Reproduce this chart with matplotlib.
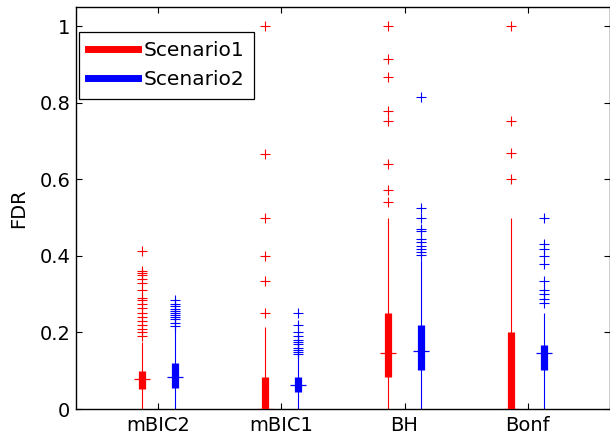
import numpy as np
import matplotlib.pyplot as plt

plt.rcParams['font.family'] = ['DejaVu Sans']

methods = ["mBIC2", "mBIC1", "BH", "Bonf"]
series = ["Scenario1", "Scenario2"]
colors = ["#ff0000", "#0000ff"]

# per method: (whisker low, q1, median, q3, whisker high)
s1_stats = [
    (0.0, 0.052, 0.078, 0.099, 0.175),
    (0.0, 0.0, 0.0, 0.084, 0.213),
    (0.0, 0.084, 0.146, 0.251, 0.5),
    (0.0, 0.0, 0.0, 0.2, 0.5),
]
s2_stats = [
    (0.0, 0.056, 0.084, 0.119, 0.213),
    (0.0, 0.045, 0.062, 0.084, 0.14),
    (0.0, 0.101, 0.152, 0.219, 0.39),
    (0.0, 0.101, 0.146, 0.167, 0.251),
]
s1_outliers = [
    [0.19, 0.2, 0.21, 0.22, 0.23, 0.24, 0.25, 0.265, 0.275, 0.285, 0.29,
     0.31, 0.33, 0.34, 0.35, 0.355, 0.36, 0.413],
    [0.252, 0.335, 0.401, 0.5, 0.667, 1.0],
    [0.54, 0.571, 0.641, 0.752, 0.779, 0.868, 0.913, 1.0],
    [0.6, 0.668, 0.752, 1.0],
]
s2_outliers = [
    [0.217, 0.225, 0.235, 0.24, 0.245, 0.25, 0.255, 0.26, 0.27, 0.275, 0.285],
    [0.145, 0.15, 0.155, 0.16, 0.17, 0.175, 0.18, 0.19, 0.2, 0.22, 0.252],
    [0.402, 0.41, 0.417, 0.426, 0.436, 0.445, 0.466, 0.47, 0.5, 0.526, 0.815],
    [0.276, 0.287, 0.3, 0.311, 0.335, 0.378, 0.4, 0.418, 0.43, 0.5],
]


def draw_group(ax, pos, stats, outliers, color):
    lo, q1, med, q3, hi = stats
    ax.vlines(pos, lo, hi, color=color, lw=0.8, zorder=2)
    ax.vlines(pos, q1, q3, color=color, lw=5.2, zorder=3)
    ax.hlines(med, pos - 0.065, pos + 0.065, color=color, lw=0.9, zorder=4)
    ax.plot(np.full(len(outliers), pos), outliers, '+', color=color,
            ms=7, mew=0.8, zorder=4, clip_on=False)


def main():
  fig = plt.figure(figsize=(6.1, 4.37), dpi=100)
  ax = fig.add_axes([0.1246, 0.064, 0.8754, 0.919])

  x = np.arange(1, len(methods) + 1)
  off = 0.136
  for i in range(len(methods)):
    draw_group(ax, x[i] - off, s1_stats[i], s1_outliers[i], colors[0])
    draw_group(ax, x[i] + off, s2_stats[i], s2_outliers[i], colors[1])

  # legend handles
  for name, c in zip(series, colors):
    ax.plot([], [], color=c, lw=5, label=name)
  leg = ax.legend(loc='upper left', fontsize=14.5, handlelength=2.5,
                  handletextpad=0.28, borderpad=0.45, labelspacing=0.5,
                  fancybox=False, framealpha=1, edgecolor='black',
                  bbox_to_anchor=(0.0056, 0.938), borderaxespad=0)
  leg.get_frame().set_linewidth(0.9)

  ax.set_xlim(0.331, 4.669)
  ax.set_ylim(0, 1.049)
  ax.set_xticks(x)
  ax.set_xticklabels(methods)
  ax.set_yticks([0, 0.2, 0.4, 0.6, 0.8, 1.0])
  ax.set_yticklabels(["0", "0.2", "0.4", "0.6", "0.8", "1"])
  ax.set_ylabel("FDR", fontsize=14, labelpad=8)
  ax.tick_params(direction='in', top=True, right=True, labelsize=14,
                 length=4, width=0.8)
  ax.tick_params(axis='y', pad=4)
  ax.tick_params(axis='x', pad=5)
  for sp in ax.spines.values():
    sp.set_linewidth(1.0)

  fig.savefig("out.png", dpi=100)


if __name__ == "__main__":
  main()
